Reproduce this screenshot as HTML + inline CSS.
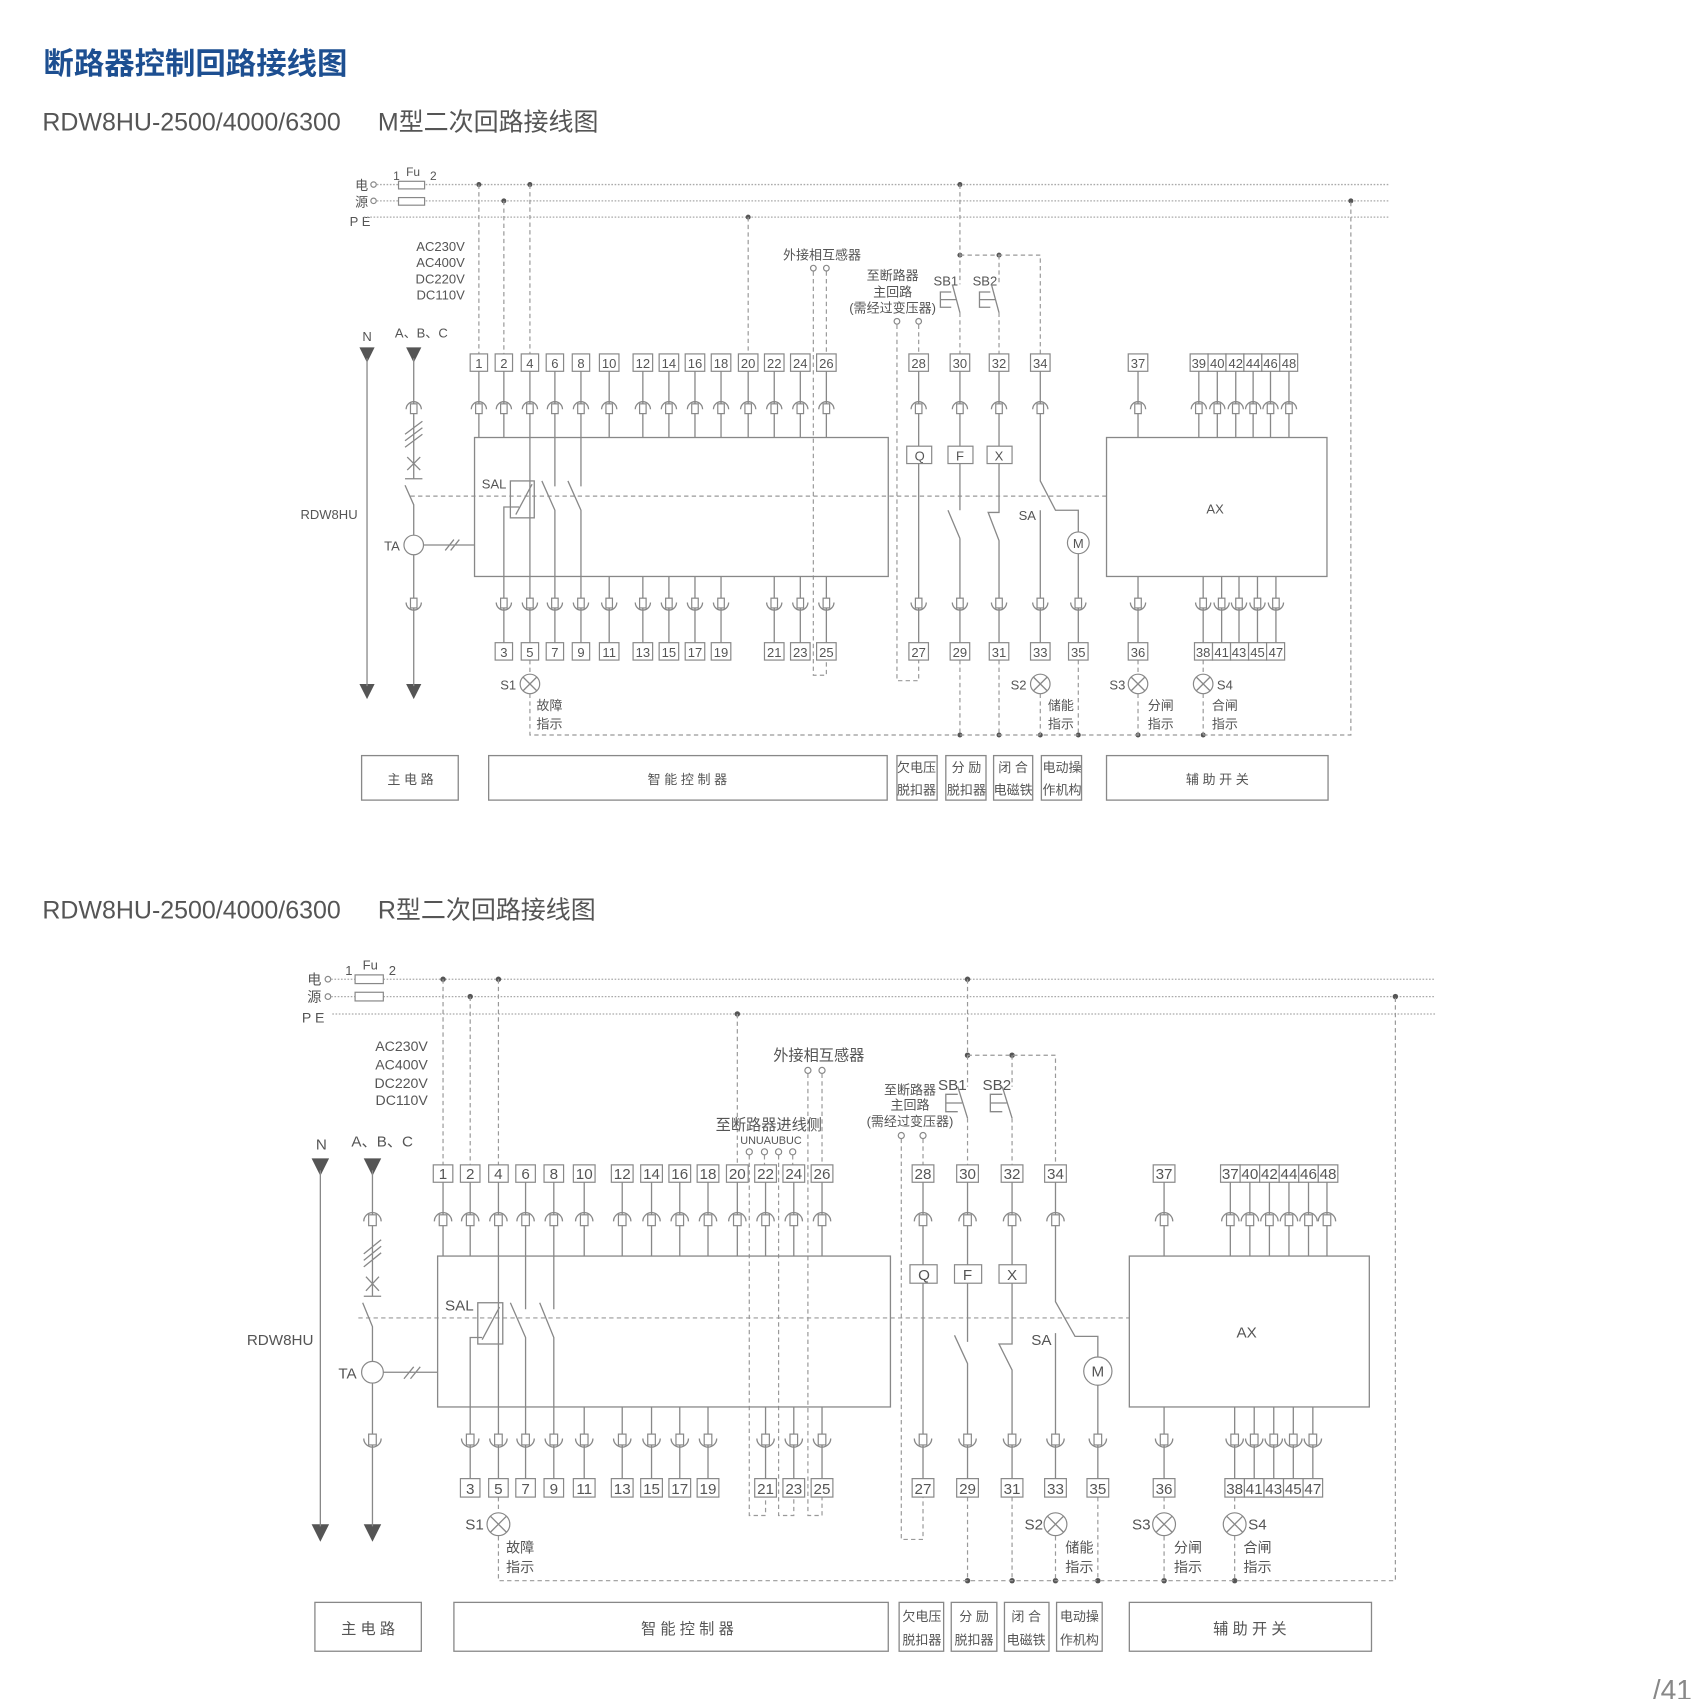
<!DOCTYPE html>
<html><head><meta charset="utf-8"><style>
html,body{margin:0;padding:0;background:#fff;}
svg{display:block;}
text{font-family:"Liberation Sans","Noto Sans CJK SC",sans-serif;fill:#555;}
.l{stroke:#888;stroke-width:1.2;fill:none;}
.d{stroke:#999;stroke-width:1.1;fill:none;stroke-dasharray:4 3;}
.p{stroke:#aaa;stroke-width:1.2;fill:none;stroke-dasharray:1.5 1.5;}
.b{stroke:#888;stroke-width:1.1;fill:#fff;}
.t{font-size:12px;text-anchor:middle;}
.t2{font-size:14px;text-anchor:middle;}
</style></head><body>
<svg width="1694" height="1699" viewBox="0 0 1560 1565" preserveAspectRatio="none" xmlns="http://www.w3.org/2000/svg">
<defs>
<g id="ct"><path class="l" d="M-7,3 A7,7 0 0 1 7,3"/><rect class="b" x="-3" y="-2" width="6" height="9"/></g>
<g id="cb"><path class="l" d="M-7,-3 A7,7 0 0 0 7,-3"/><rect class="b" x="-3" y="-7" width="6" height="9"/></g>
<g id="ct2"><path class="l" d="M-8,3 A8,8 0 0 1 8,3"/><rect class="b" x="-3.5" y="-3" width="7" height="10"/></g>
<g id="cb2"><path class="l" d="M-8,-3 A8,8 0 0 0 8,-3"/><rect class="b" x="-3.5" y="-7" width="7" height="10"/></g>
<g id="lamp"><circle class="b" r="9"/><path class="l" d="M-6.4,-6.4 L6.4,6.4 M6.4,-6.4 L-6.4,6.4"/></g>
<g id="lamp2"><circle class="b" r="10.5"/><path class="l" d="M-7.4,-7.4 L7.4,7.4 M7.4,-7.4 L-7.4,7.4"/></g>
<path id="arr" d="M-7,0 L7,0 L0,14 Z" fill="#555"/>
</defs>

<text x="40" y="68" style="font-size:28px;font-weight:bold;fill:#1d4f91">断路器控制回路接线图</text>
<text x="39" y="120" style="font-size:23px;fill:#555">RDW8HU-2500/4000/6300</text>
<text x="348" y="120" style="font-size:23px;fill:#555">M型二次回路接线图</text>

<!-- ============ DIAGRAM 1 ============ -->
<g>
<text x="327" y="175" style="font-size:12px">电</text>
<text x="327" y="190" style="font-size:12px">源</text>
<text x="322" y="208" style="font-size:12px">P E</text>
<circle cx="344" cy="170" r="2.5" class="b"/><circle cx="344" cy="185" r="2.5" class="b"/>
<path class="p" d="M347,170 H1280 M347,185 H1280 M335,200 H1280"/>
<rect class="b" x="367" y="167" width="24" height="7"/><rect class="b" x="367" y="182" width="24" height="7"/>
<text x="362" y="166" style="font-size:11px">1</text><text x="374" y="162" style="font-size:11px">Fu</text><text x="396" y="166" style="font-size:11px">2</text>
<g fill="#555"><circle cx="441" cy="170" r="2.3"/><circle cx="488" cy="170" r="2.3"/><circle cx="884" cy="170" r="2.3"/><circle cx="464" cy="185" r="2.3"/><circle cx="1244" cy="185" r="2.3"/><circle cx="689" cy="200" r="2.3"/><circle cx="884" cy="235" r="2.3"/><circle cx="920" cy="235" r="2.3"/>
<circle cx="884" cy="677" r="2.3"/><circle cx="920" cy="677" r="2.3"/><circle cx="958" cy="677" r="2.3"/><circle cx="993" cy="677" r="2.3"/><circle cx="1048" cy="677" r="2.3"/><circle cx="1108" cy="677" r="2.3"/></g>
<path class="d" d="M441,170 V326 M464,185 V326 M488,170 V326 M689,200 V326 M884,170 V262 M884,288 V326 M884,235 H958 V326 M920,235 V262 M920,288 V326
M749,250 V622 H761 V608 M761,250 V326 M826,299 V627 H846 V608 M846,299 V326
M488,608 V621 M488,639 V677 H1244 V185 M884,608 V677 M920,608 V677 M958,639 V677 M993,608 V677 M1048,608 V621 M1048,639 V677 M1108,608 V621 M1108,639 V677
M378,457 H1019"/>
<text x="428" y="231" style="font-size:12px;text-anchor:end">AC230V</text>
<text x="428" y="246" style="font-size:12px;text-anchor:end">AC400V</text>
<text x="428" y="261" style="font-size:12px;text-anchor:end">DC220V</text>
<text x="428" y="276" style="font-size:12px;text-anchor:end">DC110V</text>
<text x="757" y="239" class="t">外接相互感器</text>
<circle cx="749" cy="247" r="2.6" class="b"/><circle cx="761" cy="247" r="2.6" class="b"/>
<text x="822" y="258" class="t">至断路器</text><text x="822" y="273" class="t">主回路</text><text x="822" y="288" class="t">(需经过变压器)</text>
<circle cx="826" cy="296" r="2.6" class="b"/><circle cx="846" cy="296" r="2.6" class="b"/>
<text x="871" y="263" class="t">SB1</text><text x="907" y="263" class="t">SB2</text>
<path class="l" d="M876,269 H866 V283 H876 M866,276 H881 M877,262 L884,288 M912,269 H902 V283 H912 M902,276 H917 M913,262 L920,288"/>
<text x="338" y="314" class="t">N</text><text x="388" y="311" class="t">A、B、C</text>
<use href="#arr" x="338" y="320"/><use href="#arr" x="381" y="320"/><use href="#arr" x="338" y="630"/><use href="#arr" x="381" y="630"/>
<path class="l" d="M338,330 V632 M381,330 V441 M373,441 H389 M373,447 L381,465 V493 M381,511 V632 M373,400 L389,388 M373,406 L389,394 M373,412 L389,400 M375,421 L387,433 M387,421 L375,433 M390,502 H437 M410,507 L418,497 M415,507 L423,497"/>
<circle cx="381" cy="502" r="9" class="b"/>
<text x="361" y="507" class="t">TA</text>
<text x="303" y="478" class="t">RDW8HU</text>
<use href="#ct" x="381" y="374"/><use href="#cb" x="381" y="558"/>
<g class="l">
<path d="M441,342 V403 M464,342 V403 M488,342 V592 M511,342 V448 M535,342 V448 M561,342 V403 M592,342 V403 M616,342 V403 M640,342 V403 M664,342 V403 M689,342 V403 M713,342 V403 M737,342 V403 M761,342 V403
M846,342 V592 M884,342 V470 M873,470 L884,496 M884,496 V592 M920,342 V472 H910 L920,498 V592 M958,342 V443 L972,470 H993 V490 M993,510 V592 M958,470 V592
M1048,342 V403 M1104,342 V403 M1121,342 V403 M1138,342 V403 M1154,342 V403 M1170,342 V403 M1187,342 V403
M464,592 V467 H478 M499,443 L511,470 V592 M523,443 L535,470 V592 M561,531 V592 M592,531 V592 M616,531 V592 M640,531 V592 M664,531 V592 M713,531 V592 M737,531 V592 M761,531 V592
M1048,531 V592 M1108,531 V592 M1125,531 V592 M1141,531 V592 M1158,531 V592 M1175,531 V592"/>
</g>
<rect class="l" x="437" y="403" width="381" height="128"/>
<rect class="l" x="1019" y="403" width="203" height="128"/>
<text x="1119" y="473" class="t">AX</text>
<rect class="l" x="470" y="443" width="22" height="34" fill="none"/><path class="l" d="M475,474 L490,446"/>
<text x="455" y="450" class="t">SAL</text>
<rect class="b" x="835" y="411" width="23" height="16"/><text x="847" y="424" class="t">Q</text>
<rect class="b" x="873" y="411" width="23" height="16"/><text x="884" y="424" class="t">F</text>
<rect class="b" x="909" y="411" width="23" height="16"/><text x="920" y="424" class="t">X</text>
<text x="946" y="479" class="t">SA</text>
<circle cx="993" cy="500" r="10" class="b"/><text x="993" y="505" class="t">M</text>
<g>
<use href="#ct" x="441" y="374"/><use href="#ct" x="464" y="374"/><use href="#ct" x="488" y="374"/><use href="#ct" x="511" y="374"/><use href="#ct" x="535" y="374"/><use href="#ct" x="561" y="374"/><use href="#ct" x="592" y="374"/><use href="#ct" x="616" y="374"/><use href="#ct" x="640" y="374"/><use href="#ct" x="664" y="374"/><use href="#ct" x="689" y="374"/><use href="#ct" x="713" y="374"/><use href="#ct" x="737" y="374"/><use href="#ct" x="761" y="374"/><use href="#ct" x="846" y="374"/><use href="#ct" x="884" y="374"/><use href="#ct" x="920" y="374"/><use href="#ct" x="958" y="374"/><use href="#ct" x="1048" y="374"/><use href="#ct" x="1104" y="374"/><use href="#ct" x="1121" y="374"/><use href="#ct" x="1138" y="374"/><use href="#ct" x="1154" y="374"/><use href="#ct" x="1170" y="374"/><use href="#ct" x="1187" y="374"/>
<use href="#cb" x="464" y="558"/><use href="#cb" x="488" y="558"/><use href="#cb" x="511" y="558"/><use href="#cb" x="535" y="558"/><use href="#cb" x="561" y="558"/><use href="#cb" x="592" y="558"/><use href="#cb" x="616" y="558"/><use href="#cb" x="640" y="558"/><use href="#cb" x="664" y="558"/><use href="#cb" x="713" y="558"/><use href="#cb" x="737" y="558"/><use href="#cb" x="761" y="558"/><use href="#cb" x="846" y="558"/><use href="#cb" x="884" y="558"/><use href="#cb" x="920" y="558"/><use href="#cb" x="958" y="558"/><use href="#cb" x="993" y="558"/><use href="#cb" x="1048" y="558"/><use href="#cb" x="1108" y="558"/><use href="#cb" x="1125" y="558"/><use href="#cb" x="1141" y="558"/><use href="#cb" x="1158" y="558"/><use href="#cb" x="1175" y="558"/>
</g>
<g>
<rect class="b" x="433" y="326" width="16" height="16"/><text class="t" x="441" y="339">1</text>
<rect class="b" x="456" y="326" width="16" height="16"/><text class="t" x="464" y="339">2</text>
<rect class="b" x="480" y="326" width="16" height="16"/><text class="t" x="488" y="339">4</text>
<rect class="b" x="503" y="326" width="16" height="16"/><text class="t" x="511" y="339">6</text>
<rect class="b" x="527" y="326" width="16" height="16"/><text class="t" x="535" y="339">8</text>
<rect class="b" x="552" y="326" width="18" height="16"/><text class="t" x="561" y="339">10</text>
<rect class="b" x="583" y="326" width="18" height="16"/><text class="t" x="592" y="339">12</text>
<rect class="b" x="607" y="326" width="18" height="16"/><text class="t" x="616" y="339">14</text>
<rect class="b" x="631" y="326" width="18" height="16"/><text class="t" x="640" y="339">16</text>
<rect class="b" x="655" y="326" width="18" height="16"/><text class="t" x="664" y="339">18</text>
<rect class="b" x="680" y="326" width="18" height="16"/><text class="t" x="689" y="339">20</text>
<rect class="b" x="704" y="326" width="18" height="16"/><text class="t" x="713" y="339">22</text>
<rect class="b" x="728" y="326" width="18" height="16"/><text class="t" x="737" y="339">24</text>
<rect class="b" x="752" y="326" width="18" height="16"/><text class="t" x="761" y="339">26</text>
<rect class="b" x="837" y="326" width="18" height="16"/><text class="t" x="846" y="339">28</text>
<rect class="b" x="875" y="326" width="18" height="16"/><text class="t" x="884" y="339">30</text>
<rect class="b" x="911" y="326" width="18" height="16"/><text class="t" x="920" y="339">32</text>
<rect class="b" x="949" y="326" width="18" height="16"/><text class="t" x="958" y="339">34</text>
<rect class="b" x="1039" y="326" width="18" height="16"/><text class="t" x="1048" y="339">37</text>
<rect class="b" x="1096" y="326" width="16.5" height="16"/><text class="t" x="1104" y="339">39</text>
<rect class="b" x="1112.5" y="326" width="16.5" height="16"/><text class="t" x="1121" y="339">40</text>
<rect class="b" x="1129" y="326" width="16.5" height="16"/><text class="t" x="1138" y="339">42</text>
<rect class="b" x="1145.5" y="326" width="16.5" height="16"/><text class="t" x="1154" y="339">44</text>
<rect class="b" x="1162" y="326" width="16.5" height="16"/><text class="t" x="1170" y="339">46</text>
<rect class="b" x="1178.5" y="326" width="16.5" height="16"/><text class="t" x="1187" y="339">48</text>
</g>
<g>
<rect class="b" x="456" y="592" width="16" height="16"/><text class="t" x="464" y="605">3</text>
<rect class="b" x="480" y="592" width="16" height="16"/><text class="t" x="488" y="605">5</text>
<rect class="b" x="503" y="592" width="16" height="16"/><text class="t" x="511" y="605">7</text>
<rect class="b" x="527" y="592" width="16" height="16"/><text class="t" x="535" y="605">9</text>
<rect class="b" x="552" y="592" width="18" height="16"/><text class="t" x="561" y="605">11</text>
<rect class="b" x="583" y="592" width="18" height="16"/><text class="t" x="592" y="605">13</text>
<rect class="b" x="607" y="592" width="18" height="16"/><text class="t" x="616" y="605">15</text>
<rect class="b" x="631" y="592" width="18" height="16"/><text class="t" x="640" y="605">17</text>
<rect class="b" x="655" y="592" width="18" height="16"/><text class="t" x="664" y="605">19</text>
<rect class="b" x="704" y="592" width="18" height="16"/><text class="t" x="713" y="605">21</text>
<rect class="b" x="728" y="592" width="18" height="16"/><text class="t" x="737" y="605">23</text>
<rect class="b" x="752" y="592" width="18" height="16"/><text class="t" x="761" y="605">25</text>
<rect class="b" x="837" y="592" width="18" height="16"/><text class="t" x="846" y="605">27</text>
<rect class="b" x="875" y="592" width="18" height="16"/><text class="t" x="884" y="605">29</text>
<rect class="b" x="911" y="592" width="18" height="16"/><text class="t" x="920" y="605">31</text>
<rect class="b" x="949" y="592" width="18" height="16"/><text class="t" x="958" y="605">33</text>
<rect class="b" x="984" y="592" width="18" height="16"/><text class="t" x="993" y="605">35</text>
<rect class="b" x="1039" y="592" width="18" height="16"/><text class="t" x="1048" y="605">36</text>
<rect class="b" x="1100" y="592" width="16.6" height="16"/><text class="t" x="1108" y="605">38</text>
<rect class="b" x="1116.6" y="592" width="16.6" height="16"/><text class="t" x="1125" y="605">41</text>
<rect class="b" x="1133.2" y="592" width="16.6" height="16"/><text class="t" x="1141" y="605">43</text>
<rect class="b" x="1149.8" y="592" width="16.6" height="16"/><text class="t" x="1158" y="605">45</text>
<rect class="b" x="1166.4" y="592" width="16.6" height="16"/><text class="t" x="1175" y="605">47</text>
</g>
<use href="#lamp" x="488" y="630"/><use href="#lamp" x="958" y="630"/><use href="#lamp" x="1048" y="630"/><use href="#lamp" x="1108" y="630"/>
<text class="t" x="468" y="635">S1</text><text class="t" x="938" y="635">S2</text><text class="t" x="1029" y="635">S3</text><text class="t" x="1128" y="635">S4</text>
<text x="494" y="654" style="font-size:12px">故障</text><text x="494" y="671" style="font-size:12px">指示</text>
<text x="965" y="654" style="font-size:12px">储能</text><text x="965" y="671" style="font-size:12px">指示</text>
<text x="1057" y="654" style="font-size:12px">分闸</text><text x="1057" y="671" style="font-size:12px">指示</text>
<text x="1116" y="654" style="font-size:12px">合闸</text><text x="1116" y="671" style="font-size:12px">指示</text>
<g>
<rect class="l" x="333" y="696" width="89" height="41"/><text class="t" x="378" y="722">主 电 路</text>
<rect class="l" x="450" y="696" width="367" height="41"/><text class="t" x="633" y="722">智 能 控 制 器</text>
<rect class="l" x="826" y="696" width="37" height="41"/><text class="t" x="844" y="711">欠电压</text><text class="t" x="844" y="732">脱扣器</text>
<rect class="l" x="871" y="696" width="37" height="41"/><text class="t" x="890" y="711">分 励</text><text class="t" x="890" y="732">脱扣器</text>
<rect class="l" x="915" y="696" width="36" height="41"/><text class="t" x="933" y="711">闭 合</text><text class="t" x="933" y="732">电磁铁</text>
<rect class="l" x="959" y="696" width="37" height="41"/><text class="t" x="978" y="711">电动操</text><text class="t" x="978" y="732">作机构</text>
<rect class="l" x="1019" y="696" width="204" height="41"/><text class="t" x="1121" y="722">辅 助 开 关</text>
</g>
</g>

<!-- ============ DIAGRAM 2 ============ -->
<text x="39" y="846" style="font-size:23px;fill:#555">RDW8HU-2500/4000/6300</text>
<text x="348" y="846" style="font-size:23px;fill:#555">R型二次回路接线图</text>
<g>
<text x="283" y="907" style="font-size:13px">电</text>
<text x="283" y="923" style="font-size:13px">源</text>
<text x="278" y="942" style="font-size:13px">P E</text>
<circle cx="302" cy="902" r="2.6" class="b"/><circle cx="302" cy="918" r="2.6" class="b"/>
<path class="p" d="M305,902 H1322 M305,918 H1322 M306,934 H1322"/>
<rect class="b" x="327" y="898" width="26" height="8"/><rect class="b" x="327" y="914" width="26" height="8"/>
<text x="318" y="898" style="font-size:12px">1</text><text x="334" y="893" style="font-size:12px">Fu</text><text x="358" y="898" style="font-size:12px">2</text>
<g fill="#555"><circle cx="408" cy="902" r="2.5"/><circle cx="459" cy="902" r="2.5"/><circle cx="891" cy="902" r="2.5"/><circle cx="433" cy="918" r="2.5"/><circle cx="1285" cy="918" r="2.5"/><circle cx="679" cy="934" r="2.5"/><circle cx="891" cy="972" r="2.5"/><circle cx="932" cy="972" r="2.5"/>
<circle cx="891" cy="1456" r="2.5"/><circle cx="932" cy="1456" r="2.5"/><circle cx="972" cy="1456" r="2.5"/><circle cx="1011" cy="1456" r="2.5"/><circle cx="1072" cy="1456" r="2.5"/><circle cx="1137" cy="1456" r="2.5"/></g>
<path class="d" d="M408,902 V1073 M433,918 V1073 M459,902 V1073 M679,934 V1073 M891,902 V1001 M891,1030 V1073 M891,972 H972 V1073 M932,972 V1001 M932,1030 V1073
M690,1064 V1396 H705 V1379 M704,1064 V1073 M717,1064 V1396 H731 V1379 M730,1064 V1073 M744,989 V1396 H757 V1379 M757,989 V1073
M830,1049 V1418 H850 V1379 M850,1049 V1073
M459,1379 V1393 M459,1415 V1456 H1285 V918 M891,1379 V1456 M932,1379 V1456 M972,1415 V1456 M1011,1379 V1456 M1072,1379 V1393 M1072,1415 V1456 M1137,1379 V1393 M1137,1415 V1456
M330,1214 H1040"/>
<text x="394" y="968" style="font-size:13px;text-anchor:end">AC230V</text>
<text x="394" y="985" style="font-size:13px;text-anchor:end">AC400V</text>
<text x="394" y="1002" style="font-size:13px;text-anchor:end">DC220V</text>
<text x="394" y="1018" style="font-size:13px;text-anchor:end">DC110V</text>
<text x="754" y="977" class="t2">外接相互感器</text>
<circle cx="744" cy="986" r="2.8" class="b"/><circle cx="757" cy="986" r="2.8" class="b"/>
<text x="708" y="1041" class="t2">至断路器进线侧</text>
<text x="710" y="1054" style="font-size:10px;text-anchor:middle">UNUAUBUC</text>
<circle cx="690" cy="1061" r="2.8" class="b"/><circle cx="704" cy="1061" r="2.8" class="b"/><circle cx="717" cy="1061" r="2.8" class="b"/><circle cx="730" cy="1061" r="2.8" class="b"/>
<text x="838" y="1008" class="t">至断路器</text><text x="838" y="1022" class="t">主回路</text><text x="838" y="1037" class="t">(需经过变压器)</text>
<circle cx="830" cy="1046" r="2.8" class="b"/><circle cx="850" cy="1046" r="2.8" class="b"/>
<text x="877" y="1004" class="t2">SB1</text><text x="918" y="1004" class="t2">SB2</text>
<path class="l" d="M882,1008 H871 V1024 H882 M871,1016 H886 M882,1001 L891,1030 M923,1008 H912 V1024 H923 M912,1016 H927 M923,1001 L932,1030"/>
<text x="296" y="1059" class="t2">N</text><text x="352" y="1056" class="t2">A、B、C</text>
<use href="#arr" x="295" y="1067" transform="translate(295,1067) scale(1.15) translate(-295,-1067)"/><use href="#arr" x="343" y="1067" transform="translate(343,1067) scale(1.15) translate(-343,-1067)"/>
<use href="#arr" x="295" y="1404" transform="translate(295,1404) scale(1.15) translate(-295,-1404)"/><use href="#arr" x="343" y="1404" transform="translate(343,1404) scale(1.15) translate(-343,-1404)"/>
<path class="l" d="M295,1078 V1406 M343,1078 V1194 M335,1194 H351 M334,1200 L343,1222 V1254 M343,1274 V1406 M335,1155 L351,1142 M335,1161 L351,1148 M335,1167 L351,1154 M337,1176 L349,1189 M349,1176 L337,1189 M353,1264 H403 M372,1270 L381,1259 M378,1270 L387,1259"/>
<circle cx="343" cy="1264" r="10" class="b"/>
<text x="320" y="1270" class="t2">TA</text>
<text x="258" y="1239" class="t2">RDW8HU</text>
<use href="#ct2" x="343" y="1122"/><use href="#cb2" x="343" y="1328"/>
<g class="l">
<path d="M408,1089 V1157 M433,1089 V1157 M459,1089 V1362 M484,1089 V1206 M510,1089 V1206 M538,1089 V1157 M573,1089 V1157 M600,1089 V1157 M626,1089 V1157 M652,1089 V1157 M679,1089 V1157 M705,1089 V1157 M731,1089 V1157 M757,1089 V1157
M850,1089 V1362 M891,1089 V1236 M879,1230 L891,1256 V1362 M932,1089 V1238 H920 L932,1262 V1362 M972,1089 V1199 L990,1231 H1011 V1250 M1011,1276 V1362 M972,1228 V1362
M1072,1089 V1157 M1133,1089 V1157 M1151,1089 V1157 M1169,1089 V1157 M1187,1089 V1157 M1205,1089 V1157 M1222,1089 V1157
M433,1362 V1232 H444 M470,1200 L484,1232 V1362 M497,1200 L510,1232 V1362 M538,1296 V1362 M573,1296 V1362 M600,1296 V1362 M626,1296 V1362 M652,1296 V1362 M705,1296 V1362 M731,1296 V1362 M757,1296 V1362
M1072,1296 V1362 M1137,1296 V1362 M1155,1296 V1362 M1173,1296 V1362 M1191,1296 V1362 M1209,1296 V1362"/>
</g>
<rect class="l" x="403" y="1157" width="417" height="139"/>
<rect class="l" x="1040" y="1157" width="221" height="139"/>
<text x="1148" y="1232" class="t2">AX</text>
<rect class="l" x="440" y="1200" width="23" height="38" fill="none"/><path class="l" d="M444,1234 L460,1204"/>
<text x="423" y="1207" class="t2">SAL</text>
<rect class="b" x="838" y="1165" width="25" height="17"/><text x="851" y="1179" class="t2">Q</text>
<rect class="b" x="879" y="1165" width="25" height="17"/><text x="891" y="1179" class="t2">F</text>
<rect class="b" x="920" y="1165" width="25" height="17"/><text x="932" y="1179" class="t2">X</text>
<text x="959" y="1239" class="t2">SA</text>
<circle cx="1011" cy="1263" r="13" class="b"/><text x="1011" y="1268" class="t2">M</text>
<g>
<use href="#ct2" x="408" y="1122"/><use href="#ct2" x="433" y="1122"/><use href="#ct2" x="459" y="1122"/><use href="#ct2" x="484" y="1122"/><use href="#ct2" x="510" y="1122"/><use href="#ct2" x="538" y="1122"/><use href="#ct2" x="573" y="1122"/><use href="#ct2" x="600" y="1122"/><use href="#ct2" x="626" y="1122"/><use href="#ct2" x="652" y="1122"/><use href="#ct2" x="679" y="1122"/><use href="#ct2" x="705" y="1122"/><use href="#ct2" x="731" y="1122"/><use href="#ct2" x="757" y="1122"/><use href="#ct2" x="850" y="1122"/><use href="#ct2" x="891" y="1122"/><use href="#ct2" x="932" y="1122"/><use href="#ct2" x="972" y="1122"/><use href="#ct2" x="1072" y="1122"/><use href="#ct2" x="1133" y="1122"/><use href="#ct2" x="1151" y="1122"/><use href="#ct2" x="1169" y="1122"/><use href="#ct2" x="1187" y="1122"/><use href="#ct2" x="1205" y="1122"/><use href="#ct2" x="1222" y="1122"/>
<use href="#cb2" x="433" y="1328"/><use href="#cb2" x="459" y="1328"/><use href="#cb2" x="484" y="1328"/><use href="#cb2" x="510" y="1328"/><use href="#cb2" x="538" y="1328"/><use href="#cb2" x="573" y="1328"/><use href="#cb2" x="600" y="1328"/><use href="#cb2" x="626" y="1328"/><use href="#cb2" x="652" y="1328"/><use href="#cb2" x="705" y="1328"/><use href="#cb2" x="731" y="1328"/><use href="#cb2" x="757" y="1328"/><use href="#cb2" x="850" y="1328"/><use href="#cb2" x="891" y="1328"/><use href="#cb2" x="932" y="1328"/><use href="#cb2" x="972" y="1328"/><use href="#cb2" x="1011" y="1328"/><use href="#cb2" x="1072" y="1328"/><use href="#cb2" x="1137" y="1328"/><use href="#cb2" x="1155" y="1328"/><use href="#cb2" x="1173" y="1328"/><use href="#cb2" x="1191" y="1328"/><use href="#cb2" x="1209" y="1328"/>
</g>
<g>
<rect class="b" x="399" y="1073" width="18" height="16"/><text class="t2" x="408" y="1086">1</text>
<rect class="b" x="424" y="1073" width="18" height="16"/><text class="t2" x="433" y="1086">2</text>
<rect class="b" x="450" y="1073" width="18" height="16"/><text class="t2" x="459" y="1086">4</text>
<rect class="b" x="475" y="1073" width="18" height="16"/><text class="t2" x="484" y="1086">6</text>
<rect class="b" x="501" y="1073" width="18" height="16"/><text class="t2" x="510" y="1086">8</text>
<rect class="b" x="528" y="1073" width="20" height="16"/><text class="t2" x="538" y="1086">10</text>
<rect class="b" x="563" y="1073" width="20" height="16"/><text class="t2" x="573" y="1086">12</text>
<rect class="b" x="590" y="1073" width="20" height="16"/><text class="t2" x="600" y="1086">14</text>
<rect class="b" x="616" y="1073" width="20" height="16"/><text class="t2" x="626" y="1086">16</text>
<rect class="b" x="642" y="1073" width="20" height="16"/><text class="t2" x="652" y="1086">18</text>
<rect class="b" x="669" y="1073" width="20" height="16"/><text class="t2" x="679" y="1086">20</text>
<rect class="b" x="695" y="1073" width="20" height="16"/><text class="t2" x="705" y="1086">22</text>
<rect class="b" x="721" y="1073" width="20" height="16"/><text class="t2" x="731" y="1086">24</text>
<rect class="b" x="747" y="1073" width="20" height="16"/><text class="t2" x="757" y="1086">26</text>
<rect class="b" x="840" y="1073" width="20" height="16"/><text class="t2" x="850" y="1086">28</text>
<rect class="b" x="881" y="1073" width="20" height="16"/><text class="t2" x="891" y="1086">30</text>
<rect class="b" x="922" y="1073" width="20" height="16"/><text class="t2" x="932" y="1086">32</text>
<rect class="b" x="962" y="1073" width="20" height="16"/><text class="t2" x="972" y="1086">34</text>
<rect class="b" x="1062" y="1073" width="20" height="16"/><text class="t2" x="1072" y="1086">37</text>
<rect class="b" x="1124" y="1073" width="18" height="16"/><text class="t2" x="1133" y="1086">37</text>
<rect class="b" x="1142" y="1073" width="18" height="16"/><text class="t2" x="1151" y="1086">40</text>
<rect class="b" x="1160" y="1073" width="18" height="16"/><text class="t2" x="1169" y="1086">42</text>
<rect class="b" x="1178" y="1073" width="18" height="16"/><text class="t2" x="1187" y="1086">44</text>
<rect class="b" x="1196" y="1073" width="18" height="16"/><text class="t2" x="1205" y="1086">46</text>
<rect class="b" x="1214" y="1073" width="18" height="16"/><text class="t2" x="1223" y="1086">48</text>
</g>
<g>
<rect class="b" x="424" y="1362" width="18" height="17"/><text class="t2" x="433" y="1376">3</text>
<rect class="b" x="450" y="1362" width="18" height="17"/><text class="t2" x="459" y="1376">5</text>
<rect class="b" x="475" y="1362" width="18" height="17"/><text class="t2" x="484" y="1376">7</text>
<rect class="b" x="501" y="1362" width="18" height="17"/><text class="t2" x="510" y="1376">9</text>
<rect class="b" x="528" y="1362" width="20" height="17"/><text class="t2" x="538" y="1376">11</text>
<rect class="b" x="563" y="1362" width="20" height="17"/><text class="t2" x="573" y="1376">13</text>
<rect class="b" x="590" y="1362" width="20" height="17"/><text class="t2" x="600" y="1376">15</text>
<rect class="b" x="616" y="1362" width="20" height="17"/><text class="t2" x="626" y="1376">17</text>
<rect class="b" x="642" y="1362" width="20" height="17"/><text class="t2" x="652" y="1376">19</text>
<rect class="b" x="695" y="1362" width="20" height="17"/><text class="t2" x="705" y="1376">21</text>
<rect class="b" x="721" y="1362" width="20" height="17"/><text class="t2" x="731" y="1376">23</text>
<rect class="b" x="747" y="1362" width="20" height="17"/><text class="t2" x="757" y="1376">25</text>
<rect class="b" x="840" y="1362" width="20" height="17"/><text class="t2" x="850" y="1376">27</text>
<rect class="b" x="881" y="1362" width="20" height="17"/><text class="t2" x="891" y="1376">29</text>
<rect class="b" x="922" y="1362" width="20" height="17"/><text class="t2" x="932" y="1376">31</text>
<rect class="b" x="962" y="1362" width="20" height="17"/><text class="t2" x="972" y="1376">33</text>
<rect class="b" x="1001" y="1362" width="20" height="17"/><text class="t2" x="1011" y="1376">35</text>
<rect class="b" x="1062" y="1362" width="20" height="17"/><text class="t2" x="1072" y="1376">36</text>
<rect class="b" x="1128" y="1362" width="18" height="17"/><text class="t2" x="1137" y="1376">38</text>
<rect class="b" x="1146" y="1362" width="18" height="17"/><text class="t2" x="1155" y="1376">41</text>
<rect class="b" x="1164" y="1362" width="18" height="17"/><text class="t2" x="1173" y="1376">43</text>
<rect class="b" x="1182" y="1362" width="18" height="17"/><text class="t2" x="1191" y="1376">45</text>
<rect class="b" x="1200" y="1362" width="18" height="17"/><text class="t2" x="1209" y="1376">47</text>
</g>
<use href="#lamp2" x="459" y="1404"/><use href="#lamp2" x="972" y="1404"/><use href="#lamp2" x="1072" y="1404"/><use href="#lamp2" x="1137" y="1404"/>
<text class="t2" x="437" y="1409">S1</text><text class="t2" x="952" y="1409">S2</text><text class="t2" x="1051" y="1409">S3</text><text class="t2" x="1158" y="1409">S4</text>
<text x="466" y="1430" style="font-size:13px">故障</text><text x="466" y="1448" style="font-size:13px">指示</text>
<text x="981" y="1430" style="font-size:13px">储能</text><text x="981" y="1448" style="font-size:13px">指示</text>
<text x="1081" y="1430" style="font-size:13px">分闸</text><text x="1081" y="1448" style="font-size:13px">指示</text>
<text x="1145" y="1430" style="font-size:13px">合闸</text><text x="1145" y="1448" style="font-size:13px">指示</text>
<g>
<rect class="l" x="290" y="1476" width="98" height="45"/><text class="t2" x="339" y="1505">主 电 路</text>
<rect class="l" x="418" y="1476" width="400" height="45"/><text class="t2" x="633" y="1505">智 能 控 制 器</text>
<rect class="l" x="828" y="1476" width="41" height="45"/><text class="t" x="849" y="1493">欠电压</text><text class="t" x="849" y="1515">脱扣器</text>
<rect class="l" x="876" y="1476" width="42" height="45"/><text class="t" x="897" y="1493">分 励</text><text class="t" x="897" y="1515">脱扣器</text>
<rect class="l" x="925" y="1476" width="41" height="45"/><text class="t" x="945" y="1493">闭 合</text><text class="t" x="945" y="1515">电磁铁</text>
<rect class="l" x="973" y="1476" width="42" height="45"/><text class="t" x="994" y="1493">电动操</text><text class="t" x="994" y="1515">作机构</text>
<rect class="l" x="1040" y="1476" width="223" height="45"/><text class="t2" x="1151" y="1505">辅 助 开 关</text>
</g>
</g>
<text x="1522" y="1566" style="font-size:26px;fill:#888">/41</text>
</svg>
</body></html>
